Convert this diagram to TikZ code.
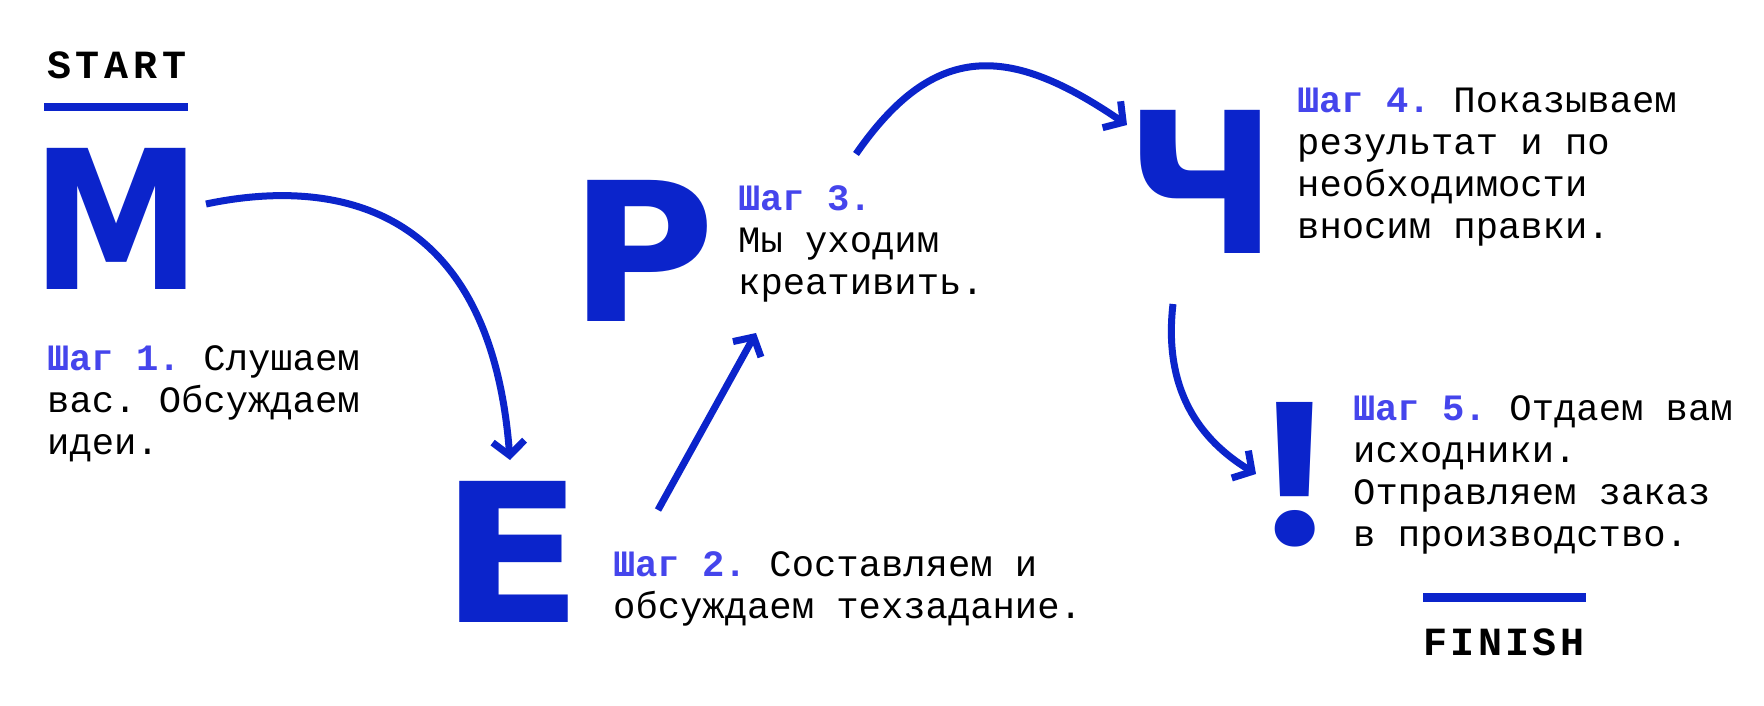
\documentclass[tikz,border=0pt]{standalone}
\usepackage{fontspec}
\usetikzlibrary{arrows.meta}
\setmainfont{Liberation Mono}
\newfontfamily\bigfont{DejaVu Sans}
\newfontfamily\popfont{Poppins}
\newfontfamily\tagfont[LetterSpace=12]{Liberation Mono}
\newfontfamily\tagfontb[LetterSpace=8.5]{Liberation Mono}
\definecolor{mainblue}{HTML}{0B24CB}
\definecolor{stepblue}{HTML}{4545EC}
\newcommand\shag[1]{\textcolor{stepblue}{\bfseries Шаг #1.}}
\frenchspacing
\tikzset{
  bigletter/.style={inner sep=0pt, outer sep=0pt, text=mainblue, font=\bigfont\bfseries},
  steptext/.style={anchor=base west, inner sep=0pt, align=left, font=\frenchspacing\fontsize{37.2}{42}\selectfont},
  tagtext/.style={anchor=base west, inner sep=0pt, font=\tagfont\bfseries\fontsize{40}{40}\selectfont},
  bar/.style={fill=mainblue, inner sep=0pt, minimum width=144pt, minimum height=8pt},
  conn/.style={draw=mainblue, line width=7pt, -{Straight Barb[length=14pt,width=32pt]}}
}
\begin{document}
\begin{tikzpicture}[x=1pt,y=-1pt]
\useasboundingbox (0,0) rectangle (1764,706);
\fill[white] (0,0) rectangle (1764,706);

% START / FINISH
\node[tagtext] (start) at (47,79) {START};
\node[bar] (startbar) at (116,107) {};
\node[bar, minimum width=163pt, minimum height=9pt] (finishbar) at (1504.5,597.5) {};
\node[tagtext, font=\tagfontb\bfseries\fontsize{40}{40}\selectfont] (finish) at (1423,655) {FINISH};

% big letters
\node[bigletter] (M) at (117,218.5) {\resizebox{170pt}{141pt}{М}};
\node[bigletter] (E) at (512,551.5) {\resizebox{143pt}{141pt}{Е}};
\node[bigletter] (P) at (643,250.5) {\resizebox{146pt}{141pt}{Р}};
\node[bigletter] (CH) at (1201.5,181.5) {\resizebox{152pt}{143pt}{Ч}};
\node[bigletter, font=\popfont\bfseries] (EX) at (1295,474.5) {\resizebox{!}{143pt}{!}};

% step texts (anchored at the baseline of the last line)
\node[steptext] (s1) at (47,454) {\shag{1} Слушаем\\вас. Обсуждаем\\идеи.};
\node[steptext] (s2) at (613,618) {\shag{2} Составляем и\\обсуждаем техзадание.};
\node[steptext] (s3) at (738,294) {\shag{3}\\Мы уходим\\креативить.};
\node[steptext] (s4) at (1297,238) {\shag{4} Показываем\\результат и по\\необходимости\\вносим правки.};
\node[steptext] (s5) at (1353,546) {\shag{5} Отдаем вам\\исходники.\\Отправляем заказ\\в производство.};

% connector end points
\coordinate (a1s) at (206,204);
\coordinate (a1e) at (510,460);
\coordinate (a2s) at (658,510);
\coordinate (a2e) at (756,333);
\coordinate (a3s) at (856,154);
\coordinate (a3e) at (1127,125);
\coordinate (a4s) at (1173,304);
\coordinate (a4e) at (1256,474);

\draw[conn] (a1s) .. controls (330,178) and (490,200) .. (a1e);
\draw[conn] (a2s) -- (a2e);
\draw[conn] (a3s) .. controls (935,40) and (1010,45) .. (a3e);
\draw[conn] (a4s) .. controls (1163,390) and (1200,440) .. (a4e);
\end{tikzpicture}
\end{document}
